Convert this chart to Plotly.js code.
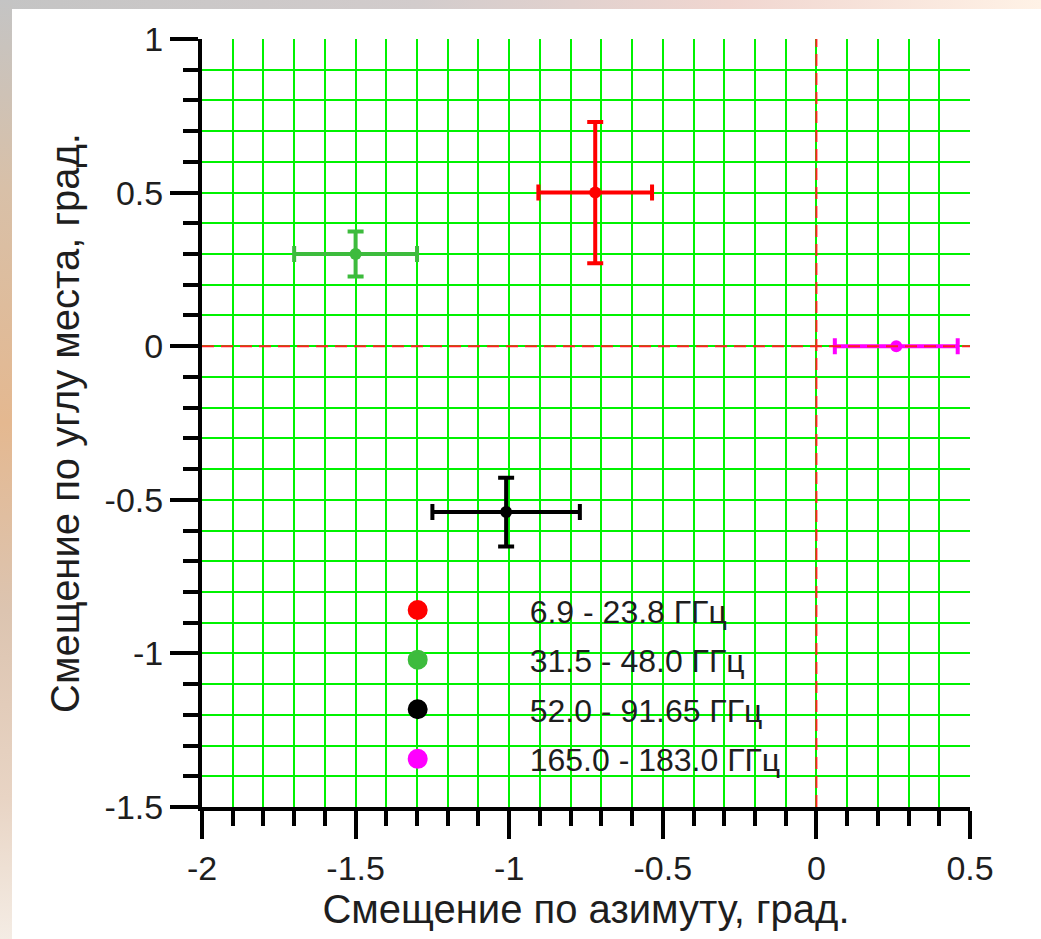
<!DOCTYPE html>
<html>
<head>
<meta charset="utf-8">
<script src="https://cdn.plot.ly/plotly-3.0.1.min.js"></script>
<style>
  html, body { margin: 0; padding: 0; width: 1041px; height: 939px; overflow: hidden; background: #ffffff; }
  #topstrip { position: absolute; left: 0; top: 0; width: 1041px; height: 9px;
    background: linear-gradient(to right, #c4c4c4 0%, #d2cccc 40%, #f0d6d0 70%, #fff2e6 100%); }
  #leftstrip { position: absolute; left: 0; top: 0; width: 12px; height: 939px;
    background: linear-gradient(to bottom, #c4c4c4 0%, #d8c0a8 20%, #e4b890 45%, #dcc4b0 65%, #e8d4c4 85%, #f4ece4 100%); }
  #chart { position: absolute; left: 0; top: 0; width: 1041px; height: 939px; }
</style>
</head>
<body>
<div id="topstrip"></div>
<div id="leftstrip"></div>
<div id="chart"></div>
<script>
// ---- data ----
const seriesNames = ['6.9 - 23.8 ГГц', '31.5 - 48.0 ГГц', '52.0 - 91.65 ГГц', '165.0 - 183.0 ГГц'];
const seriesColors = ['#ff0000', '#3dbb3d', '#000000', '#ff00ff'];
const azimuth = [-0.72, -1.50, -1.01, 0.26];
const elevation = [0.50, 0.30, -0.54, 0.00];
const azimuthErr = [0.185, 0.20, 0.24, 0.20];
const elevationErr = [0.23, 0.073, 0.112, 0];

const xTickVals = [-2, -1.5, -1, -0.5, 0, 0.5];
const xTickText = ['-2', '-1.5', '-1', '-0.5', '0', '0.5'];
const yTickVals = [-1.5, -1, -0.5, 0, 0.5, 1];
const yTickText = ['-1.5', '-1', '-0.5', '0', '0.5', '1'];

const xTitle = 'Смещение по азимуту, град.';
const yTitle = 'Смещение по углу места, град.';

const FONT = 'Liberation Sans, Arial, sans-serif';
const TEXT = '#1e1e1e';
const GRID = '#00f200';

const traces = [];
// data points with error bars
seriesNames.forEach((name, i) => {
  traces.push({
    type: 'scatter', mode: 'markers',
    x: [azimuth[i]], y: [elevation[i]],
    name: name, showlegend: false,
    marker: { color: seriesColors[i], size: 12 },
    error_x: { type: 'data', array: [azimuthErr[i]], visible: true,
               color: seriesColors[i], thickness: 4, width: 8 },
    error_y: { type: 'data', array: [elevationErr[i]], visible: elevationErr[i] > 0,
               color: seriesColors[i], thickness: 4, width: 8 },
    cliponaxis: false
  });
});
// legend entries (large markers like the reference legend)
seriesNames.forEach((name, i) => {
  traces.push({
    type: 'scatter', mode: 'markers',
    x: [null], y: [null],
    name: name, legendgroup: 'g' + i, showlegend: true,
    marker: { color: seriesColors[i], size: 16, line: { color: seriesColors[i], width: 4 } }
  });
});

const axisCommon = {
  showline: true, linecolor: '#000000', linewidth: 4,
  ticks: 'outside', ticklen: 28, tickwidth: 4, tickcolor: '#000000',
  tickmode: 'array',
  showgrid: true, gridcolor: GRID, gridwidth: 2,
  zeroline: false,
  tickfont: { family: FONT, size: 34, color: TEXT },
  minor: { dtick: 0.1, tick0: 0, ticks: 'outside', ticklen: 15, tickwidth: 4, tickcolor: '#000000',
           showgrid: true, gridcolor: GRID, gridwidth: 2 },
  fixedrange: true
};

const layout = {
  width: 1041, height: 939,
  margin: { l: 202, r: 71, t: 39, b: 132, pad: 0 },
  paper_bgcolor: 'rgba(0,0,0,0)',
  plot_bgcolor: '#ffffff',
  showlegend: true,
  legend: {
    x: 0.135, xanchor: 'left', y: 0.292, yanchor: 'top',
    bgcolor: 'rgba(0,0,0,0)', borderwidth: 0,
    itemwidth: 214, tracegroupgap: 5, traceorder: 'grouped',
    font: { family: FONT, size: 32, color: TEXT },
    itemclick: false, itemdoubleclick: false
  },
  xaxis: Object.assign({}, axisCommon, {
    range: [-2, 0.5], tickvals: xTickVals, ticktext: xTickText,
    title: { text: xTitle, font: { family: FONT, size: 40, color: TEXT }, standoff: 6 }
  }),
  yaxis: Object.assign({}, axisCommon, {
    range: [-1.5, 1], tickvals: yTickVals, ticktext: yTickText,
    title: { text: yTitle, font: { family: FONT, size: 40, color: TEXT }, standoff: 14 }
  }),
  shapes: [
    { type: 'line', xref: 'x', yref: 'paper', x0: 0, x1: 0, y0: 0, y1: 1, layer: 'above',
      line: { color: '#ff2020', width: 2, dash: '12px,7px' } },
    { type: 'line', xref: 'paper', yref: 'y', x0: 0, x1: 1, y0: 0, y1: 0, layer: 'above',
      line: { color: '#ff2020', width: 2, dash: '12px,7px' } }
  ]
};

Plotly.newPlot('chart', traces, layout, { displayModeBar: false, staticPlot: true });
</script>
</body>
</html>
